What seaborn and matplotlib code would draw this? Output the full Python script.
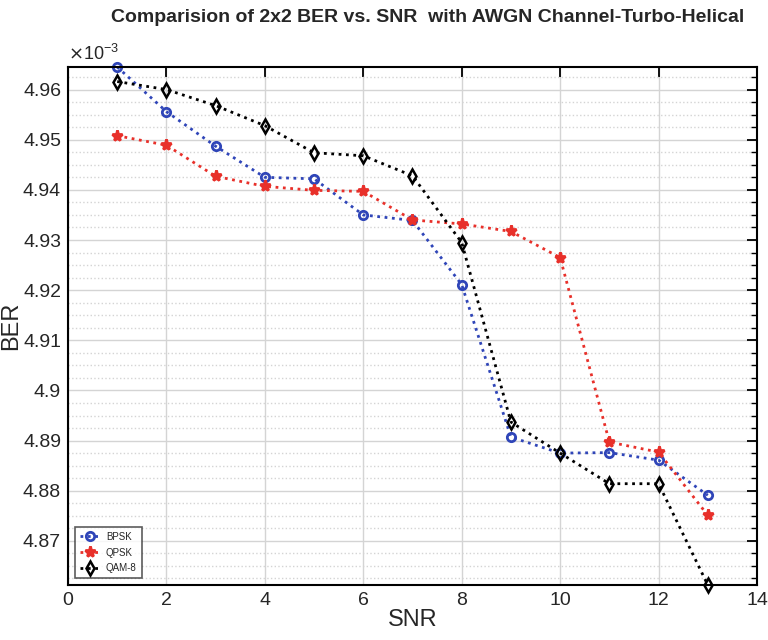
import matplotlib
matplotlib.use("Agg")
import matplotlib.pyplot as plt
import seaborn as sns
import pandas as pd
from matplotlib.ticker import MultipleLocator

snr = list(range(1, 14))
# BER values in units of 1e-3
bpsk = [4.9645, 4.9556, 4.9487, 4.9425, 4.9422, 4.9350, 4.9339, 4.9211, 4.8907, 4.8875, 4.8876, 4.8861, 4.8791]
qpsk = [4.9508, 4.9489, 4.9427, 4.9407, 4.9399, 4.9397, 4.9340, 4.9332, 4.9317, 4.9265, 4.8897, 4.8877, 4.8751]
qam8 = [4.9616, 4.9600, 4.9568, 4.9528, 4.9474, 4.9468, 4.9428, 4.9295, 4.8937, 4.8875, 4.8814, 4.8814, 4.8612]
series_names = ["BPSK", "QPSK", "QAM-8"]
yticks = [4.87, 4.88, 4.89, 4.9, 4.91, 4.92, 4.93, 4.94, 4.95, 4.96]
yticklabels = ["4.87", "4.88", "4.89", "4.9", "4.91", "4.92", "4.93", "4.94", "4.95", "4.96"]

sns.set_theme(style="white")
plt.rcParams['font.family'] = ['Liberation Sans', 'DejaVu Sans']

fig = plt.figure(figsize=(7.68, 6.4), dpi=100)
ax = fig.add_axes([68 / 768, 1 - 585 / 640, (757 - 68) / 768, (585 - 67) / 640])

df = pd.DataFrame({
    "SNR": snr * 3,
    "BER": bpsk + qpsk + qam8,
    "Mod": [series_names[0]] * 13 + [series_names[1]] * 13 + [series_names[2]] * 13,
})

styles = {
    "BPSK": dict(color="#2f45b8", marker="o", mfc="none", ms=6, mew=2),
    "QPSK": dict(color="#e8302a", marker="*", mfc="#e8302a", ms=8, mew=2),
    "QAM-8": dict(color="black", marker="d", mfc="none", ms=7, mew=1.8),
}
for name in series_names:
    st = styles[name]
    sns.lineplot(data=df[df["Mod"] == name], x="SNR", y="BER", ax=ax,
                 color=st["color"], linestyle=":", linewidth=2,
                 marker=st["marker"], markerfacecolor=st["mfc"],
                 markeredgecolor=st["color"], markersize=st["ms"],
                 markeredgewidth=st["mew"], label=name, clip_on=False)

allv = bpsk + qpsk + qam8
ax.set_xlim(0, 14)
ax.set_ylim(min(allv), max(allv))
ax.xaxis.set_major_locator(MultipleLocator(2))
ax.yaxis.set_minor_locator(MultipleLocator(0.0025))
ax.set_yticks(yticks)
ax.set_yticklabels(yticklabels)

ax.grid(True, which="major", color="#d4d4d4", linestyle="-", linewidth=1)
ax.grid(True, which="minor", axis="y", color="#d4d4d4", linestyle=":", linewidth=1)
ax.set_axisbelow(True)

ax.tick_params(which="both", direction="in", top=True, right=True, color="black")
ax.tick_params(which="major", length=7, width=1.3, labelsize=14, pad=5)
ax.tick_params(which="minor", length=4, width=1.0)
ax.tick_params(axis="x", which="minor", bottom=False, top=False)
for sp in ax.spines.values():
    sp.set_color("black")
    sp.set_linewidth(1.5)
    sp.set_visible(True)

ax.set_xlabel("SNR", fontsize=17, labelpad=0)
ax.set_ylabel("BER", fontsize=17)
ax.yaxis.set_label_coords(-0.067, 0.5)
fig.text(428 / 768, 1 - 17 / 640, "Comparision of 2x2 BER vs. SNR  with AWGN Channel-Turbo-Helical",
         fontsize=14, fontweight="bold", ha="center", va="center")
ax.text(0.0, 1.006, r"$\times\mathregular{10^{-3}}$", transform=ax.transAxes,
        fontsize=13, ha="left", va="bottom")

leg = ax.legend(loc="lower left", fontsize=7, frameon=True, fancybox=False,
                edgecolor="#333333", borderaxespad=0.7, handlelength=2.2,
                handletextpad=0.5, labelspacing=0.6, borderpad=0.5)
leg.get_frame().set_linewidth(1.2)

fig.savefig("out.png", dpi=100)
